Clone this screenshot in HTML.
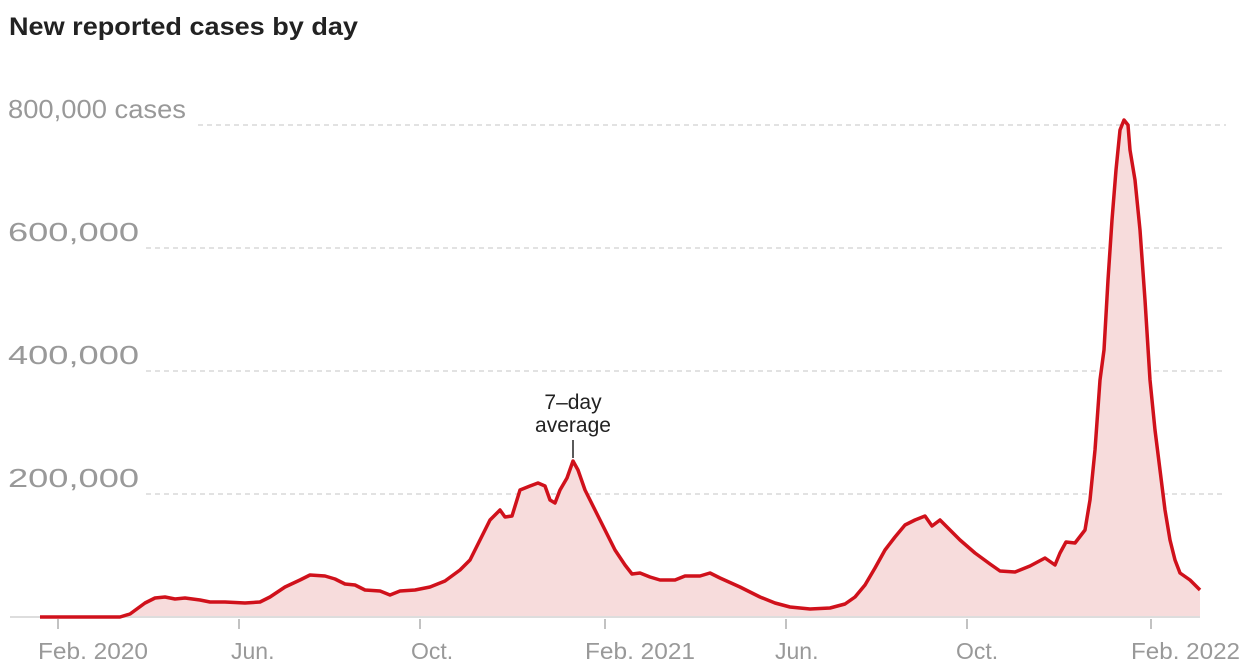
<!DOCTYPE html>
<html><head><meta charset="utf-8"><style>
body{margin:0;background:#fff;width:1248px;height:665px;overflow:hidden}
</style></head><body>
<svg width="1248" height="665" xmlns="http://www.w3.org/2000/svg" font-family="Liberation Sans, sans-serif">
<text x="9" y="35" font-size="25" font-weight="bold" fill="#222" textLength="349" lengthAdjust="spacingAndGlyphs">New reported cases by day</text>
<g stroke="#d8d8d8" stroke-width="1.5" stroke-dasharray="5,4">
<line x1="198" y1="125" x2="1226" y2="125"/>
<line x1="146" y1="248" x2="1226" y2="248"/>
<line x1="146" y1="371" x2="1226" y2="371"/>
<line x1="146" y1="494" x2="1226" y2="494"/>
</g>
<g font-size="26" fill="#999">
<text x="8" y="118" textLength="178" lengthAdjust="spacingAndGlyphs">800,000 cases</text>
<text x="8" y="241" textLength="131" lengthAdjust="spacingAndGlyphs">600,000</text>
<text x="8" y="364" textLength="131" lengthAdjust="spacingAndGlyphs">400,000</text>
<text x="8" y="487" textLength="131" lengthAdjust="spacingAndGlyphs">200,000</text>
</g>
<polygon fill="#f7dcdc" points="40,617 120,617 130,614 145,603 155,598 165,597 175,599 185,598 200,600 210,602 225,602 245,603 260,602 270,597 285,587 300,580 310,575 325,576 335,579 345,584 355,585 365,590 380,591 390,595 400,591 415,590 430,587 445,581 460,570 470,560 480,540 490,520 500,510 505,517 512,516 520,490 530,486 538,483 545,486 550,500 555,503 560,490 567,478 573,461 578,470 585,490 595,510 605,530 615,550 625,565 632,574 640,573 650,577 660,580 675,580 685,576 700,576 710,573 720,578 740,587 760,597 775,603 790,607 810,609 830,608 845,604 855,597 865,585 875,568 885,550 895,537 905,525 915,520 925,516 932,526 940,520 950,530 960,540 975,553 990,564 1000,571 1015,572 1030,566 1045,558 1055,565 1060,553 1066,542 1075,543 1085,530 1090,500 1095,450 1100,380 1104,350 1108,280 1112,220 1116,170 1120,130 1124,120 1128,125 1130,150 1135,180 1140,230 1145,300 1150,380 1155,430 1160,470 1165,510 1170,540 1175,560 1180,573 1190,580 1200,590 1200,617"/>
<line x1="10" y1="617" x2="1200" y2="617" stroke="#ddd" stroke-width="2"/>
<polyline fill="none" stroke="#d0111b" stroke-width="3.5" stroke-linejoin="round" points="40,617 120,617 130,614 145,603 155,598 165,597 175,599 185,598 200,600 210,602 225,602 245,603 260,602 270,597 285,587 300,580 310,575 325,576 335,579 345,584 355,585 365,590 380,591 390,595 400,591 415,590 430,587 445,581 460,570 470,560 480,540 490,520 500,510 505,517 512,516 520,490 530,486 538,483 545,486 550,500 555,503 560,490 567,478 573,461 578,470 585,490 595,510 605,530 615,550 625,565 632,574 640,573 650,577 660,580 675,580 685,576 700,576 710,573 720,578 740,587 760,597 775,603 790,607 810,609 830,608 845,604 855,597 865,585 875,568 885,550 895,537 905,525 915,520 925,516 932,526 940,520 950,530 960,540 975,553 990,564 1000,571 1015,572 1030,566 1045,558 1055,565 1060,553 1066,542 1075,543 1085,530 1090,500 1095,450 1100,380 1104,350 1108,280 1112,220 1116,170 1120,130 1124,120 1128,125 1130,150 1135,180 1140,230 1145,300 1150,380 1155,430 1160,470 1165,510 1170,540 1175,560 1180,573 1190,580 1200,590"/>
<line x1="573" y1="440" x2="573" y2="458" stroke="#222" stroke-width="1.5"/>
<g font-size="21" fill="#222" text-anchor="middle">
<text x="573" y="409">7–day</text>
<text x="573" y="432">average</text>
</g>
<g stroke="#999" stroke-width="1.2">
<line x1="58" y1="619" x2="58" y2="629"/><line x1="239" y1="619" x2="239" y2="629"/>
<line x1="420" y1="619" x2="420" y2="629"/><line x1="605" y1="619" x2="605" y2="629"/>
<line x1="786" y1="619" x2="786" y2="629"/><line x1="967" y1="619" x2="967" y2="629"/>
<line x1="1151" y1="619" x2="1151" y2="629"/>
</g>
<g font-size="23" fill="#999">
<text x="38" y="659" textLength="110" lengthAdjust="spacingAndGlyphs">Feb. 2020</text>
<text x="231" y="659">Jun.</text>
<text x="411" y="659">Oct.</text>
<text x="585" y="659" textLength="110" lengthAdjust="spacingAndGlyphs">Feb. 2021</text>
<text x="775" y="659">Jun.</text>
<text x="956" y="659">Oct.</text>
<text x="1131" y="659" textLength="109" lengthAdjust="spacingAndGlyphs">Feb. 2022</text>
</g>
</svg>
</body></html>
